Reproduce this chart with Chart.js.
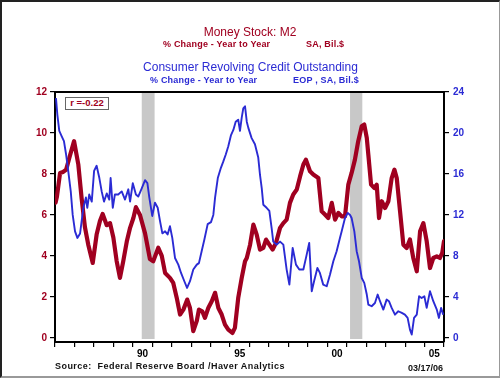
<!DOCTYPE html>
<html>
<head>
<meta charset="utf-8">
<script src="https://cdn.jsdelivr.net/npm/chart.js@4"></script>
<style>
  html, body { margin:0; padding:0; background:#fff; }
  #wrap { position:relative; width:500px; height:378px; overflow:hidden; background:#fff; font-family:"Liberation Sans", Arial, sans-serif; }
  #wrap canvas { position:absolute; left:0; top:0; }
  .t { position:absolute; white-space:pre; }
  .red { color:#a00020; }
  .blue { color:#2b2bd4; }
  #frame { position:absolute; left:0; top:0; border-top:2px solid #222; border-left:2px solid #222; border-right:1px solid #999; border-bottom:2px solid #999; box-sizing:border-box; width:500px; height:378px; pointer-events:none; }
</style>
</head>
<body>
<div id="wrap">
  <canvas id="c" width="500" height="378"></canvas>
  <div class="t red" style="left:0;width:500px;text-align:center;top:25px;font-size:12px;line-height:14px;">Money Stock: M2</div>
  <div class="t red" style="left:163px;top:39px;font-size:9px;line-height:10px;font-weight:bold;letter-spacing:0.2px;">% Change - Year to Year</div>
  <div class="t red" style="left:306px;top:39px;font-size:9px;line-height:10px;font-weight:bold;letter-spacing:0.2px;">SA, Bil.$</div>
  <div class="t blue" style="left:0;width:501px;text-align:center;top:60px;font-size:12px;line-height:14px;">Consumer Revolving Credit Outstanding</div>
  <div class="t blue" style="left:150px;top:75px;font-size:9px;line-height:10px;font-weight:bold;letter-spacing:0.2px;">% Change - Year to Year</div>
  <div class="t blue" style="left:293px;top:75px;font-size:9px;line-height:10px;font-weight:bold;letter-spacing:0.2px;">EOP , SA, Bil.$</div>
  <div class="t red" style="left:65px;top:97px;width:44px;height:13px;box-sizing:border-box;border:1.5px solid #666;background:#fff;font-size:9.5px;line-height:10px;font-weight:bold;text-align:center;">r =-0.22</div>
  <div class="t" style="left:55px;top:361px;font-size:9px;line-height:10px;font-weight:bold;letter-spacing:0.45px;color:#111;">Source:  Federal Reserve Board /Haver Analytics</div>
  <div class="t" style="left:408px;top:363px;font-size:9px;line-height:10px;font-weight:bold;color:#111;">03/17/06</div>
  <div id="frame"></div>
</div>
<script>
// ---- Data ----
const m2Dates = [1986.03,1986.10,1986.26,1986.41,1986.57,1986.77,1986.98,1987.20,1987.37,1987.54,1987.71,1987.94,1988.14,1988.31,1988.45,1988.66,1988.83,1989.00,1989.17,1989.34,1989.51,1989.69,1989.86,1990.03,1990.16,1990.37,1990.63,1990.88,1991.05,1991.31,1991.49,1991.66,1991.91,1992.08,1992.26,1992.43,1992.60,1992.80,1992.94,1993.11,1993.29,1993.40,1993.57,1993.71,1993.88,1994.06,1994.23,1994.40,1994.57,1994.74,1994.91,1995.12,1995.25,1995.42,1995.60,1995.77,1995.86,1996.03,1996.20,1996.37,1996.54,1996.71,1996.85,1997.02,1997.19,1997.36,1997.57,1997.74,1997.91,1998.08,1998.25,1998.43,1998.60,1998.77,1998.90,1999.11,1999.28,1999.54,1999.71,1999.88,2000.05,2000.23,2000.40,2000.57,2000.74,2000.91,2001.08,2001.25,2001.42,2001.59,2001.77,2001.90,2002.03,2002.11,2002.25,2002.42,2002.54,2002.66,2002.80,2002.97,2003.14,2003.31,2003.45,2003.57,2003.74,2003.91,2004.08,2004.25,2004.42,2004.60,2004.77,2004.94,2005.11,2005.28,2005.45,2005.63,2005.79,2005.91,2006.00];
const m2Values = [6.6,6.9,8.05,8.1,8.2,8.9,9.6,8.45,6.8,5.4,4.55,3.66,5.04,5.7,6.05,5.5,5.6,4.9,3.75,2.93,3.75,4.7,5.37,5.85,6.38,6.0,5.1,3.85,3.74,4.4,4.0,3.17,2.93,2.68,1.95,1.14,1.38,1.87,1.46,0.33,0.83,1.38,1.3,0.98,1.46,1.79,2.2,1.46,1.14,0.65,0.4,0.24,0.49,1.95,2.93,3.74,3.9,4.55,5.53,5.04,4.31,4.39,4.8,4.55,4.31,4.63,5.37,5.6,5.77,6.59,7.0,7.24,7.88,8.46,8.7,8.13,7.97,7.8,6.18,6.02,5.85,6.59,5.77,6.1,5.93,5.93,7.48,8.05,8.7,9.6,10.33,10.41,9.76,8.94,7.48,7.32,7.48,5.85,6.67,6.34,6.67,7.8,8.21,7.8,6.18,4.55,4.39,4.8,3.9,3.25,5.2,5.6,4.72,3.41,3.9,3.98,3.9,4.15,4.72];

const creditDates = [1986.05,1986.12,1986.22,1986.34,1986.46,1986.57,1986.68,1986.81,1986.91,1987.03,1987.15,1987.29,1987.37,1987.46,1987.59,1987.66,1987.76,1987.89,1988.01,1988.14,1988.28,1988.40,1988.52,1988.66,1988.79,1988.86,1988.97,1989.08,1989.25,1989.43,1989.60,1989.77,1989.86,1990.00,1990.16,1990.28,1990.46,1990.63,1990.75,1990.85,1991.00,1991.14,1991.28,1991.40,1991.52,1991.66,1991.79,1991.91,1992.03,1992.17,1992.34,1992.48,1992.65,1992.79,1992.94,1993.11,1993.29,1993.40,1993.54,1993.68,1993.85,1994.02,1994.14,1994.23,1994.37,1994.53,1994.65,1994.78,1994.91,1995.05,1995.17,1995.29,1995.42,1995.51,1995.60,1995.68,1995.77,1995.86,1995.94,1996.11,1996.28,1996.45,1996.54,1996.63,1996.71,1996.88,1997.02,1997.14,1997.22,1997.40,1997.57,1997.74,1997.91,1998.05,1998.22,1998.39,1998.56,1998.77,1998.94,1999.07,1999.20,1999.32,1999.49,1999.62,1999.79,1999.97,2000.14,2000.31,2000.48,2000.65,2000.74,2000.91,2001.05,2001.17,2001.25,2001.39,2001.51,2001.63,2001.77,2001.90,2002.03,2002.11,2002.28,2002.45,2002.59,2002.71,2002.88,2003.05,2003.17,2003.31,2003.48,2003.65,2003.83,2003.99,2004.13,2004.25,2004.34,2004.46,2004.60,2004.72,2004.85,2004.99,2005.11,2005.28,2005.45,2005.63,2005.74,2005.85,2005.96];
const creditValues = [23.4,21.8,20.2,19.7,19.2,17.9,16.3,14.3,12.0,10.4,9.76,10.2,11.4,12.7,13.7,12.7,14.0,13.3,16.3,16.8,15.6,14.3,13.3,14.1,13.5,15.6,12.7,14.0,14.0,14.3,13.5,14.5,13.3,15.1,14.0,13.8,14.6,15.4,15.1,13.7,11.9,13.2,12.7,11.4,10.2,10.4,10.1,10.9,9.76,7.8,7.15,6.34,5.53,4.88,5.53,6.67,7.15,7.3,8.46,9.6,11.1,11.3,12.0,13.7,15.6,16.6,17.2,17.9,18.7,19.8,20.3,21.1,21.3,20.2,21.5,22.4,22.6,21.1,20.5,19.5,18.9,17.6,15.9,14.6,13.0,12.7,12.4,10.7,9.4,9.1,9.4,9.1,6.67,5.2,8.78,7.15,6.67,6.67,8.13,9.27,4.56,5.53,6.83,6.34,5.2,5.04,6.18,7.48,8.46,9.76,10.4,11.7,12.2,12.0,11.7,10.4,8.46,7.48,5.85,5.37,4.23,3.25,3.09,3.41,4.23,3.58,2.76,3.74,3.58,2.93,2.27,2.6,2.44,2.27,1.95,0.81,0.33,1.95,2.27,4.07,3.9,4.07,2.93,4.56,3.58,2.76,1.95,2.93,2.27];

const recessionStarts = [1990.46, 2001.17];
const recessionEnds   = [1991.12, 2001.80];

const xTickYears = [1986,1987,1988,1989,1990,1991,1992,1993,1994,1995,1996,1997,1998,1999,2000,2001,2002,2003,2004,2005,2006];
const xLabelYears = [1990,1995,2000,2005];
const xLabelTexts = ['90','95','00','05'];
const leftTicks = [0,2,4,6,8,10,12];
const rightTicks = [0,4,8,12,16,20,24];

const RED = '#a00020';
const BLUE = '#2b2bd4';

const m2Data = m2Dates.map((d,i)=>({x:d, y:m2Values[i]}));
const creditData = creditDates.map((d,i)=>({x:d, y:creditValues[i]}));

const recessionPlugin = {
  id:'recessions',
  beforeDatasetsDraw(chart){
    const {ctx, chartArea, scales} = chart;
    ctx.save();
    ctx.fillStyle = '#c8c8c8';
    recessionStarts.forEach((s,i)=>{
      const x1 = scales.x.getPixelForValue(s);
      const x2 = scales.x.getPixelForValue(recessionEnds[i]);
      ctx.fillRect(x1, chartArea.top, x2-x1, chartArea.bottom-chartArea.top-3);
    });
    ctx.restore();
  },
  afterDraw(chart){
    const {ctx, chartArea} = chart;
    ctx.save();
    ctx.strokeStyle = '#000';
    ctx.lineWidth = 2;
    ctx.beginPath();
    ctx.moveTo(chartArea.left-1, chartArea.top);
    ctx.lineTo(chartArea.right+1, chartArea.top);
    ctx.stroke();
    ctx.restore();
  }
};

const FONT = {family:'"Liberation Sans", Arial, sans-serif', size:10, weight:'bold'};

new Chart(document.getElementById('c'), {
  type:'line',
  data:{
    datasets:[
      {label:'Consumer Revolving Credit Outstanding', data:creditData, yAxisID:'y2', borderColor:BLUE, borderWidth:1.9, pointRadius:0, tension:0, order:0, borderJoinStyle:'round'},
      {label:'Money Stock: M2', data:m2Data, yAxisID:'y', borderColor:RED, borderWidth:4.2, pointRadius:0, tension:0, order:1, borderJoinStyle:'round', borderCapStyle:'round'}
    ]
  },
  options:{
    responsive:false,
    animation:false,
    devicePixelRatio:1,
    layout:{padding:{top:92,left:0,right:0,bottom:0}},
    plugins:{legend:{display:false}, tooltip:{enabled:false}, title:{display:false}},
    scales:{
      x:{
        type:'linear', min:1986, max:2006, position:'bottom',
        afterBuildTicks(s){ s.ticks = xTickYears.map(v=>({value:v})); },
        afterFit(s){ s.height = 36; },
        ticks:{
          autoSkip:false, maxRotation:0, minRotation:0, labelOffset:9.7, padding:1,
          color:'#000', font:FONT,
          callback(v){ const i = xLabelYears.indexOf(v); return i>=0 ? xLabelTexts[i] : ''; }
        },
        grid:{drawOnChartArea:false, drawTicks:true, tickLength:5, color:'#000', lineWidth:1.2},
        border:{display:true, color:'#000', width:2}
      },
      y:{
        type:'linear', position:'left', min:-0.2, max:12,
        afterBuildTicks(s){ s.ticks = leftTicks.map(v=>({value:v})); },
        afterFit(s){ s.width = 55; },
        ticks:{color:RED, font:FONT, padding:3},
        grid:{drawOnChartArea:false, tickLength:5, color:'#000', lineWidth:1.2},
        border:{display:true, color:'#000', width:2}
      },
      y2:{
        type:'linear', position:'right', min:-0.4, max:24,
        afterBuildTicks(s){ s.ticks = rightTicks.map(v=>({value:v})); },
        afterFit(s){ s.width = 56; },
        ticks:{color:BLUE, font:FONT, padding:4},
        grid:{drawOnChartArea:false, tickLength:5, color:'#000', lineWidth:1.2},
        border:{display:true, color:'#000', width:2}
      }
    }
  },
  plugins:[recessionPlugin]
});
</script>
</body>
</html>
